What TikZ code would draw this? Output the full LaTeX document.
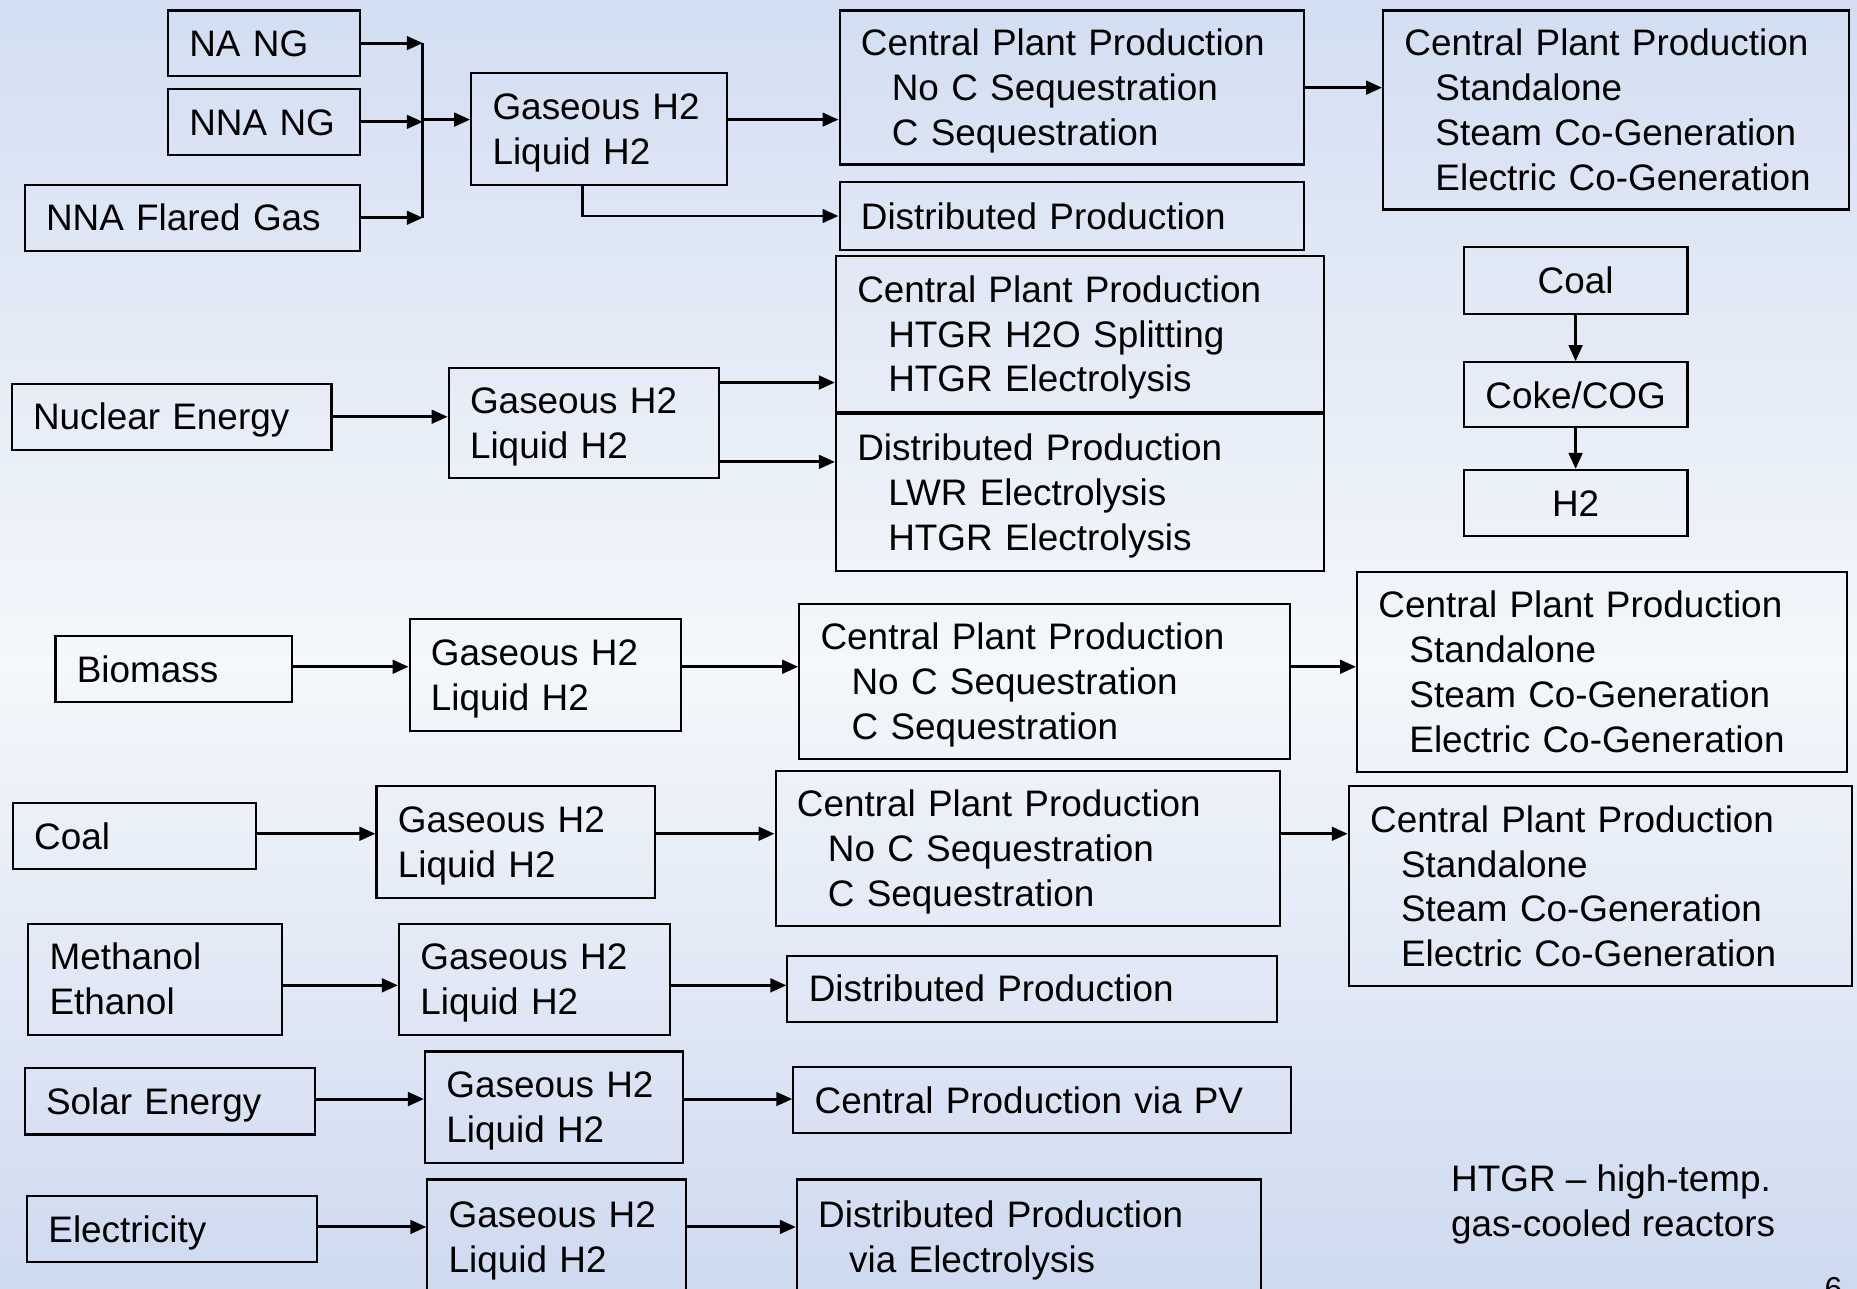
\documentclass[tikz,border=0pt]{standalone}
\usepackage{fontspec}
\newfontfamily\diagfont{Liberation Sans}
\usetikzlibrary{positioning, calc, arrows.meta}

\newcommand{\unitpx}{0.0237cm}
\newcommand{\ind}{\hspace*{0.62cm}}

\definecolor{skytop}{RGB}{210,222,242}
\definecolor{skymid}{RGB}{244,247,251}
\definecolor{skylow}{RGB}{206,218,240}

\tikzset{
  box/.style 2 args={draw, line width=1.2pt, anchor=north west, inner xsep=18*\unitpx,
    inner ysep=0pt, text width=(#1-36)*\unitpx, minimum height=#2*\unitpx, align=left,
    text height=15pt, text depth=0pt,
    font=\diagfont\fontsize{21}{25.6}\selectfont},
  lines/.style={text depth=(#1-1)*25.6pt},
  cbox/.style 2 args={draw, line width=1.2pt, anchor=north west, inner sep=0pt,
    minimum width=#1*\unitpx, minimum height=#2*\unitpx, align=center,
    text height=15pt, text depth=0pt,
    font=\diagfont\fontsize{21}{25.6}\selectfont},
  arr/.style={-{Triangle[length=0.32cm, width=0.27cm]}, line width=1.7pt},
  note/.style={anchor=north west, align=left, inner sep=0pt,
    font=\diagfont\fontsize{21}{25.6}\selectfont}
}

\begin{document}
\begin{tikzpicture}[x=0.0237cm, y=-0.0237cm]
    \useasboundingbox (0,0) rectangle (1568,1088);
    % background
    \shade[top color=skytop, bottom color=skymid] (0,0) rectangle (1568,560);
    \shade[top color=skymid, bottom color=skylow] (0,560) rectangle (1568,1088);

    % natural gas
    \node[box={162}{55}] (nang) at (141,8) {NA NG};
    \node[box={162}{56}] (nnang) at (141,74) {NNA NG};
    \node[box={283}{56}] (flare) at (20,155) {NNA Flared Gas};
    \node[box={216}{94}, lines=2] (gas1) at (397,61) {Gaseous H2\\Liquid H2};
    \node[box={392}{130}, lines=3] (cpp1) at (708,8) {Central Plant Production\\\ind No C Sequestration\\\ind C Sequestration};
    \node[box={393}{168}, lines=4] (cppx1) at (1167,8) {Central Plant Production\\\ind Standalone\\\ind Steam Co-Generation\\\ind Electric Co-Generation};
    \node[box={392}{57}] (dist1) at (708,153) {Distributed Production};
    \coordinate (bus) at (357,101);
    \draw[arr] (nang.east) -- (nang.east -| bus);
    \draw[arr] (nnang.east) -- (nnang.east -| bus);
    \draw[arr] (flare.east) -- (flare.east -| bus);
    \draw[line width=1.7pt] (nang.east -| bus) -- (flare.east -| bus);
    \draw[arr] (bus) -- (gas1.west |- bus);
    \draw[arr] (gas1.east |- bus) -- (cpp1.west |- bus);
    \draw[arr] ($(gas1.south west)+(95,0)$) |- (dist1.west);
    \draw[arr] (cpp1.east |- 0,74) -- (cppx1.west |- 0,74);

    % nuclear
    \node[box={270}{56}] (nuc) at (9,323) {Nuclear Energy};
    \node[box={228}{93}, lines=2] (gas2) at (378,310) {Gaseous H2\\Liquid H2};
    \node[box={412}{132}, lines=3] (cpp2) at (705,215) {Central Plant Production\\\ind HTGR H2O Splitting\\\ind HTGR Electrolysis};
    \node[box={412}{132}, lines=3] (dist2) at (705,349) {Distributed Production\\\ind LWR Electrolysis\\\ind HTGR Electrolysis};
    \draw[arr] (nuc.east) -- (nuc.east -| gas2.west);
    \draw[arr] (gas2.east |- 0,323) -- (cpp2.west |- 0,323);
    \draw[arr] (gas2.east |- 0,390) -- (dist2.west |- 0,390);

    % coal to coke
    \node[cbox={189}{56}] (coalc) at (1235,208) {Coal};
    \node[cbox={189}{55}] (coke) at (1235,305) {Coke/COG};
    \node[cbox={189}{56}] (htwo) at (1235,396) {H2};
    \draw[arr] (coalc.south) -- (coke.north);
    \draw[arr] (coke.south) -- (htwo.north);

    % biomass
    \node[box={200}{56}] (bio) at (46,536) {Biomass};
    \node[box={229}{94}, lines=2] (gas3) at (345,522) {Gaseous H2\\Liquid H2};
    \node[box={414}{131}, lines=3] (cpp3) at (674,509) {Central Plant Production\\\ind No C Sequestration\\\ind C Sequestration};
    \node[box={414}{169}, lines=4] (cppx3) at (1145,482) {Central Plant Production\\\ind Standalone\\\ind Steam Co-Generation\\\ind Electric Co-Generation};
    \draw[arr] (bio.east |- 0,563) -- (gas3.west |- 0,563);
    \draw[arr] (gas3.east |- 0,563) -- (cpp3.west |- 0,563);
    \draw[arr] (cpp3.east |- 0,563) -- (cppx3.west |- 0,563);

    % coal
    \node[box={205}{56}] (coal) at (10,677) {Coal};
    \node[box={235}{94}, lines=2] (gas4) at (317,663) {Gaseous H2\\Liquid H2};
    \node[box={426}{131}, lines=3] (cpp4) at (654,650) {Central Plant Production\\\ind No C Sequestration\\\ind C Sequestration};
    \node[box={425}{169}, lines=4] (cppx4) at (1138,663) {Central Plant Production\\\ind Standalone\\\ind Steam Co-Generation\\\ind Electric Co-Generation};
    \draw[arr] (coal.east |- 0,704) -- (gas4.west |- 0,704);
    \draw[arr] (gas4.east |- 0,704) -- (cpp4.west |- 0,704);
    \draw[arr] (cpp4.east |- 0,704) -- (cppx4.west |- 0,704);

    % alcohols
    \node[box={214}{94}, lines=2] (meth) at (23,779) {Methanol\\Ethanol};
    \node[box={229}{94}, lines=2] (gas5) at (336,779) {Gaseous H2\\Liquid H2};
    \node[box={413}{56}] (dist5) at (664,806) {Distributed Production};
    \draw[arr] (meth.east |- 0,832) -- (gas5.west |- 0,832);
    \draw[arr] (gas5.east |- 0,832) -- (dist5.west |- 0,832);

    % solar
    \node[box={245}{56}] (sol) at (20,901) {Solar Energy};
    \node[box={218}{94}, lines=2] (gas6) at (358,887) {Gaseous H2\\Liquid H2};
    \node[box={420}{56}] (pv) at (669,900) {Central Production via PV};
    \draw[arr] (sol.east |- 0,928) -- (gas6.west |- 0,928);
    \draw[arr] (gas6.east |- 0,928) -- (pv.west |- 0,928);

    % electricity
    \node[box={245}{56}] (elec) at (22,1009) {Electricity};
    \node[box={218}{97}, lines=2] (gas7) at (360,995) {Gaseous H2\\Liquid H2};
    \node[box={392}{97}, lines=2] (dist7) at (672,995) {Distributed Production\\\ind via Electrolysis};
    \draw[arr] (elec.east |- 0,1036) -- (gas7.west |- 0,1036);
    \draw[arr] (gas7.east |- 0,1036) -- (dist7.west |- 0,1036);

    \node[note] (abbr) at (1225,983) {HTGR – high-temp.\\gas-cooled reactors};
    \node[anchor=north, inner sep=0pt, font=\diagfont\fontsize{18}{20}\selectfont] (pg) at (1548,1078) {6};
\end{tikzpicture}
\end{document}
